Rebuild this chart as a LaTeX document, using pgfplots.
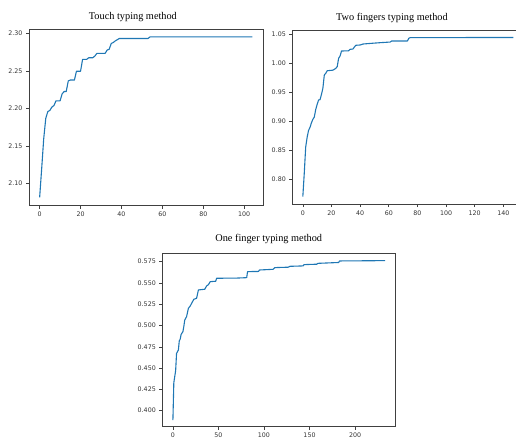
\documentclass[border=0pt]{standalone}
\usepackage{fontspec}
\setmainfont{Liberation Serif}
\newfontfamily\dejavu{DejaVu Sans}
\usepackage{pgfplots}
\pgfplotsset{compat=1.18}
\definecolor{mplblue}{HTML}{1F77B4}
\definecolor{spine}{HTML}{404040}
\pgfplotsset{
  mplax/.style={
    scale only axis, anchor=north west,
    axis line style={spine, line width=0.6pt},
    tick style={spine, line width=0.6pt},
    tick align=outside, major tick length=3pt,
    xtick pos=lower, ytick pos=left,
    ticklabel style={font=\dejavu\fontsize{6.3}{7}\selectfont, text=black!80},
    /pgf/number format/assume math mode=true,
    title style={font=\fontsize{10.3}{12}\selectfont, anchor=base, yshift=3pt},
    clip=true,
  },
  mplline/.style={mplblue, line width=1.1pt, line join=round},
}

\begin{document}
\begin{tikzpicture}
\useasboundingbox (0,0) rectangle (516pt,-438pt);

% Touch typing
\begin{axis}[mplax, at={(29pt,-29pt)}, width=234pt, height=176.5pt,
  xmin=-5.2, xmax=109.2, ymin=2.0708, ymax=2.306,
  xtick={0,20,...,100}, ytick={2.10,2.15,...,2.31},
  yticklabel style={/pgf/number format/.cd, fixed, fixed zerofill, precision=2},
  title={Touch typing method}, title style={at={(0.444,1)}}]
\addplot[mplline] coordinates {(0,2.0815) (1,2.12) (2,2.16) (3,2.187) (4,2.196) (5,2.1975) (6,2.202) (7,2.204) (8,2.2103) (10,2.2103) (11,2.2196) (12,2.2227) (13,2.2227) (14,2.2368) (15,2.238) (17,2.238) (18,2.2497) (20,2.2497) (21,2.2656) (23,2.2656) (24,2.2677) (26,2.2677) (27,2.27) (28,2.2735) (32,2.2735) (33,2.2779) (34,2.279) (35,2.2867) (36,2.288) (37,2.2902) (39,2.2934) (53,2.2934) (54,2.2955) (104,2.2955)};
\end{axis}

% Two fingers typing
\begin{axis}[mplax, at={(292.3pt,-30.7pt)}, width=231.6pt, height=173.3pt,
  xmin=-7.35, xmax=154.35, ymin=0.7568, ymax=1.0562,
  xtick={0,20,...,140}, ytick={0.80,0.85,...,1.06},
  yticklabel style={/pgf/number format/.cd, fixed, fixed zerofill, precision=2},
  title={Two fingers typing method}, title style={at={(0.430,1)}, yshift=1pt}]
\addplot[mplline] coordinates {(0,0.7695) (1,0.81) (2,0.855) (3,0.872) (4,0.884) (5,0.889) (6,0.897) (7,0.903) (8,0.907) (9,0.92) (10,0.929) (11,0.9365) (12,0.937) (13,0.946) (14,0.9567) (15,0.9797) (16,0.9826) (17,0.987) (21,0.988) (22,0.9895) (23,0.9912) (24,0.994) (25,1.0085) (26,1.0125) (27,1.0211) (32,1.0215) (33,1.024) (35,1.0245) (36,1.028) (37,1.031) (40,1.0315) (42,1.0332) (48,1.0344) (54,1.0355) (61,1.0366) (62,1.0384) (73,1.0384) (74,1.0431) (75,1.0442) (147,1.0445)};
\end{axis}

% One finger typing
\begin{axis}[mplax, at={(162.3pt,-253.3pt)}, width=233.4pt, height=173.4pt,
  xmin=-11.65, xmax=244.65, ymin=0.3812, ymax=0.5848,
  xtick={0,50,...,200}, ytick={0.400,0.425,...,0.58},
  yticklabel style={/pgf/number format/.cd, fixed, fixed zerofill, precision=3},
  title={One finger typing method}, title style={at={(0.456,1)}, yshift=3pt}]
\addplot[mplline] coordinates {(0,0.389) (1,0.433) (2,0.440) (3,0.447) (4,0.4673) (5,0.4693) (6,0.4712) (7,0.482) (8,0.484) (9,0.4895) (11,0.4928) (12,0.499) (13,0.5065) (15,0.5104) (17,0.5202) (19,0.5229) (21,0.527) (23,0.5308) (26,0.532) (28,0.5418) (35,0.5426) (37,0.5465) (39,0.548) (41,0.5515) (47,0.552) (48,0.5555) (70,0.5557) (81,0.5562) (82,0.5633) (94,0.5635) (95,0.5652) (110,0.566) (112,0.568) (127,0.5685) (128,0.5695) (143,0.570) (144,0.5715) (158,0.572) (159,0.573) (182,0.574) (183,0.5758) (233,0.5762)};
\end{axis}
\end{tikzpicture}
\end{document}
